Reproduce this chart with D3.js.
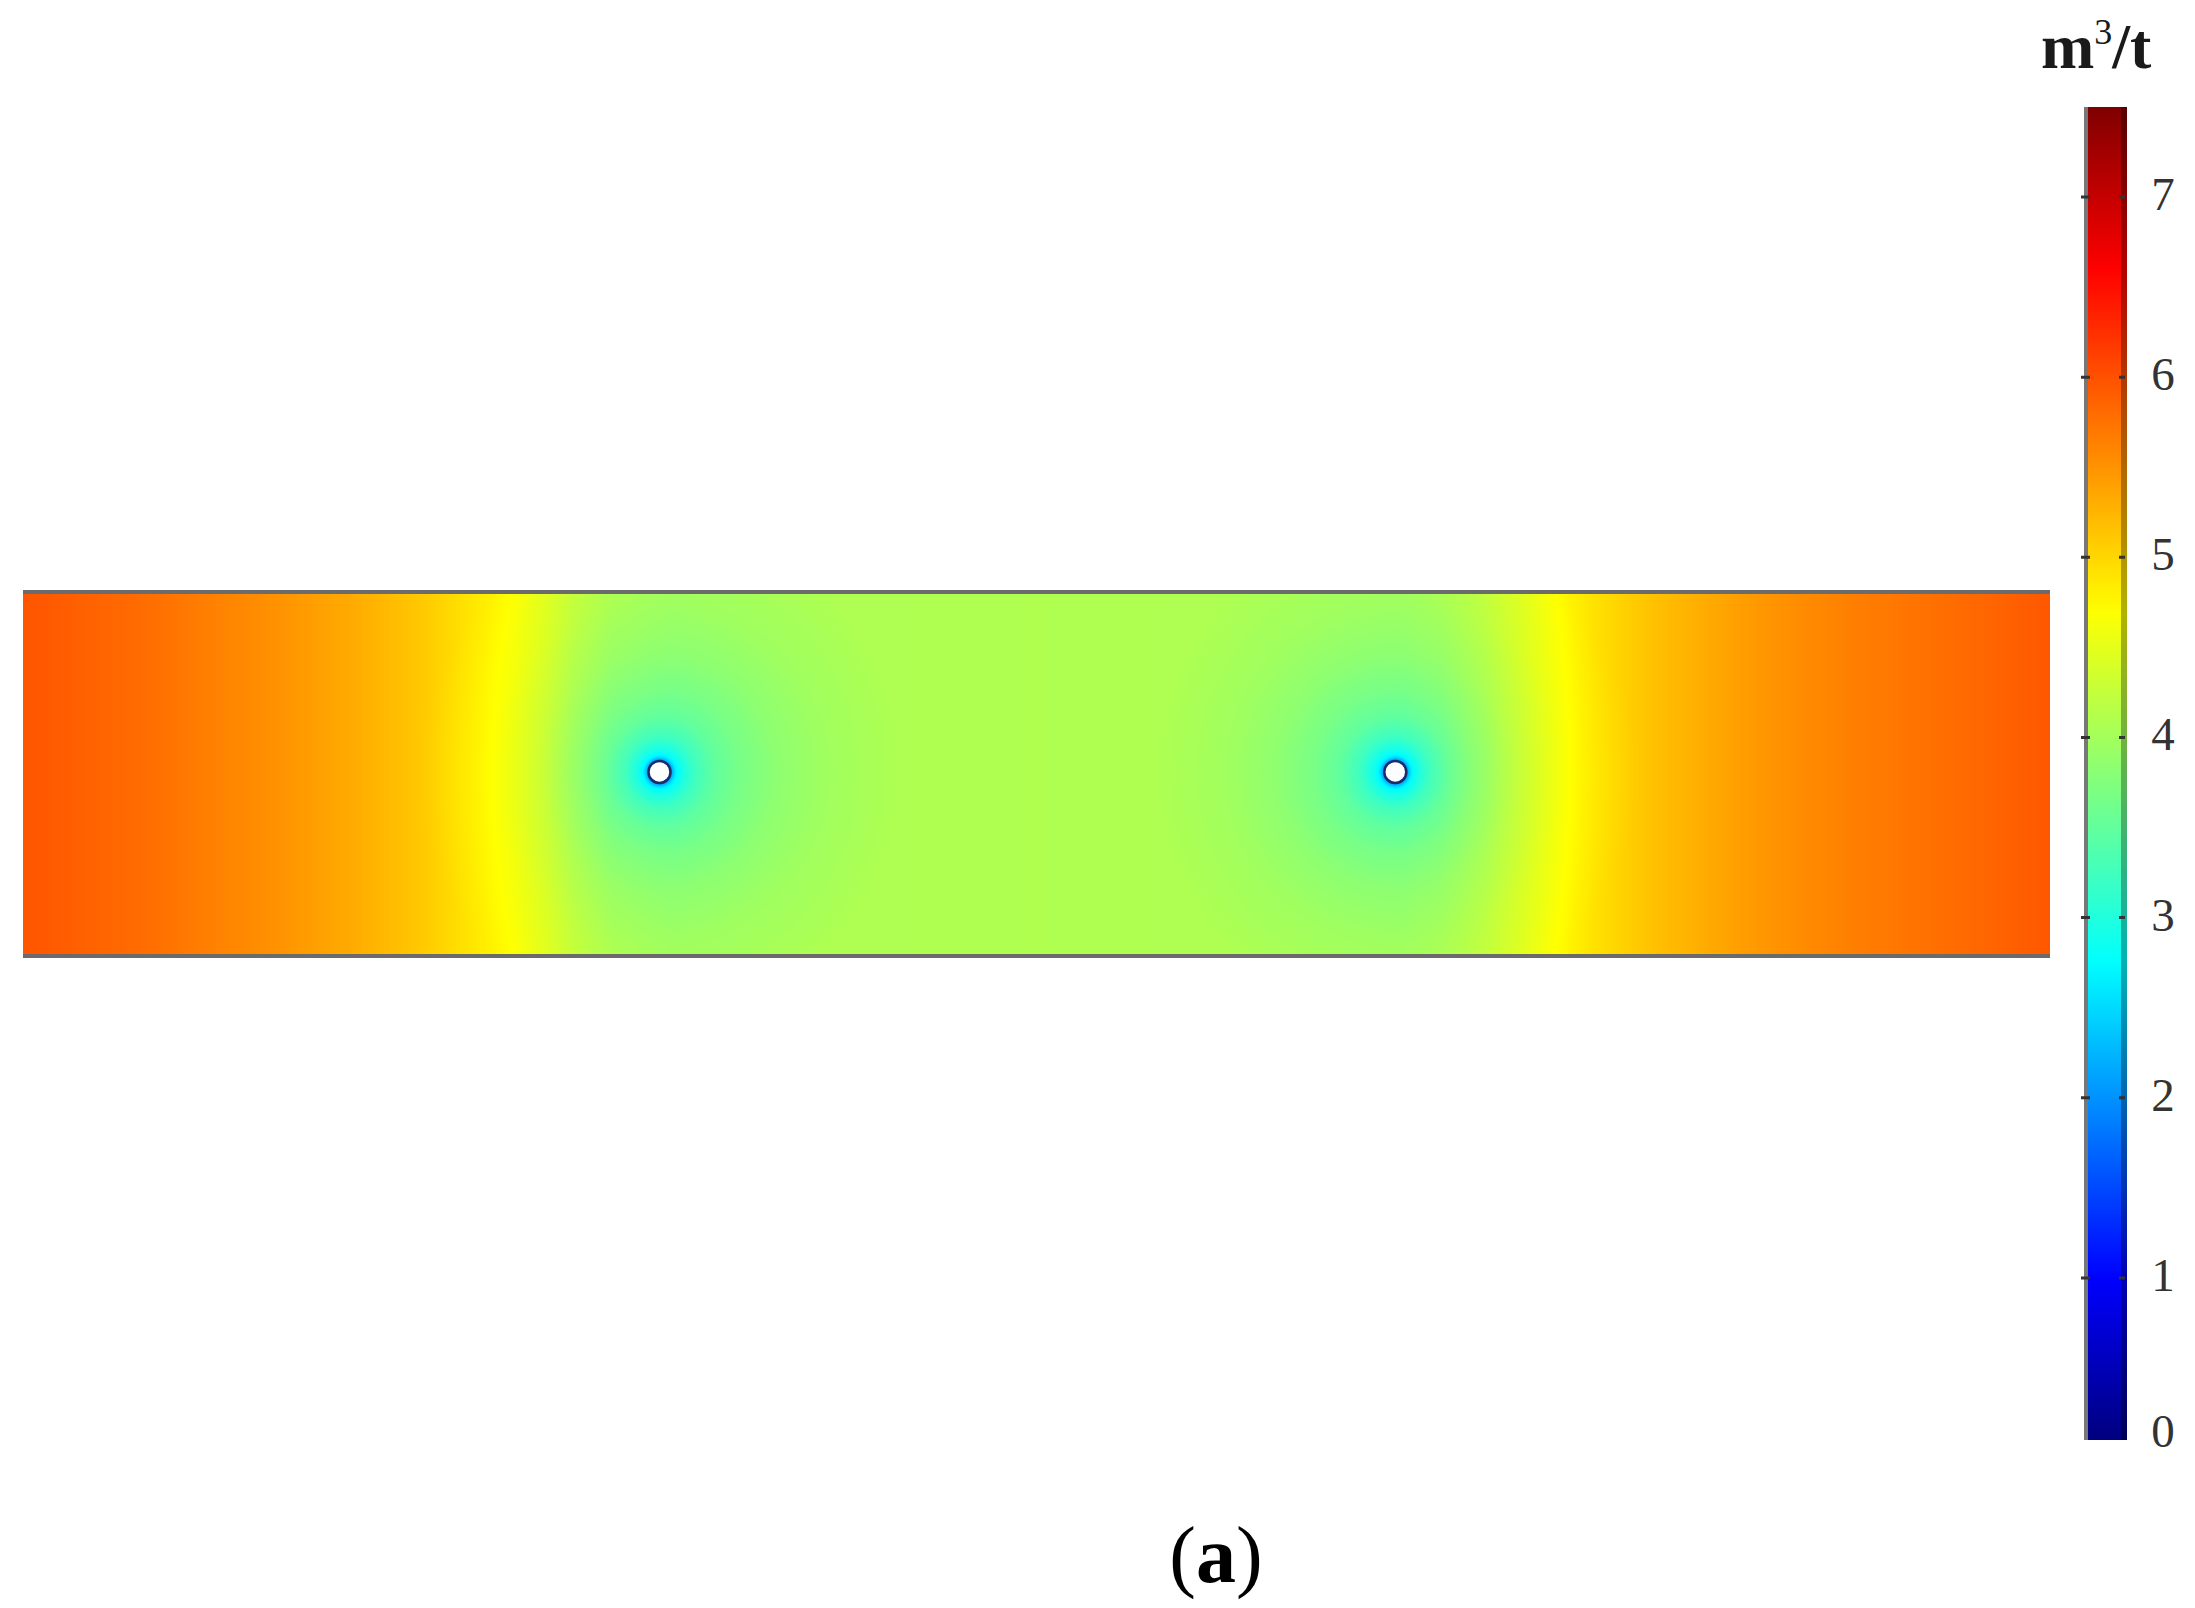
<!DOCTYPE html>
<html>
<head>
<meta charset="utf-8">
<script src="https://cdn.jsdelivr.net/npm/d3@7"></script>
<style>
  html, body { margin: 0; padding: 0; background: #fff; }
  svg { display: block; }
  .lbl { font-family: "Liberation Serif", "Times New Roman", serif; fill: #2a2a2a; }
</style>
</head>
<body>
<div id="chart"></div>
<script>
// gas content along the seam (position in % of the length -> m3/t)
var profileX = [0, 3, 6, 9, 12.5, 16, 19.5, 22, 24.2, 25.7, 27.2, 29, 32, 36, 42, 50, 58, 64, 68, 70, 72, 74, 75.6, 77.5, 80.5, 85, 90, 95.5, 100];
var profileV = [5.97, 5.88, 5.79, 5.66, 5.51, 5.34, 5.12, 4.90, 4.70, 4.52, 4.30, 4.14, 4.06, 4.07, 4.08, 4.09, 4.08, 4.07, 4.06, 4.12, 4.27, 4.50, 4.70, 4.92, 5.17, 5.44, 5.65, 5.80, 5.95];

// drainage boreholes (position in model units)
var holeX = [31.4, 67.7];
var holeY = [8.9, 8.9];

// drop of gas content around a borehole (distance -> drop, m3/t)
var holeR = [0.5, 0.65, 0.8, 1.1, 1.7, 2.7, 4.0, 6.0, 8.5, 12];
var holeDrop = [2.5, 1.8, 1.4, 1.15, 0.85, 0.58, 0.4, 0.22, 0.09, 0];

// colour legend
var stopValues = [0.1, 1.0, 2.75, 4.7, 6.6, 7.5];
var stopColors = ["#00007f", "#0000ff", "#00ffff", "#ffff00", "#ff0000", "#7f0000"];
var tickValues = [0, 1, 2, 3, 4, 5, 6, 7];

var W = 2195, H = 1608;
var field = {left: 23, right: 2050, top: 592, bottom: 956};
var bar = {left: 2086, right: 2127, top: 107, bottom: 1440};

var svg = d3.select("#chart").append("svg")
    .attr("width", W)
    .attr("height", H);

var xScale = d3.scaleLinear().domain([0, 100]).range([field.left, field.right]);
var yScale = d3.scaleLinear().domain([0, 18]).range([field.top, field.bottom]);

var profile = d3.scaleLinear().domain(profileX).range(profileV).clamp(true);
var drop = d3.scaleLinear().domain(holeR).range(holeDrop).clamp(true);

var color = d3.scaleLinear()
    .domain(stopValues)
    .range(stopColors)
    .interpolate(d3.interpolateRgb)
    .clamp(true);

// lookup table so the canvas loop stays quick
var vmin = stopValues[0], vmax = stopValues[stopValues.length - 1];
var lut = d3.range(1024).map(function(i) {
    return d3.rgb(color(vmin + (vmax - vmin) * i / 1023));
});

// draw the field on a canvas, then drop it into the svg
var cw = Math.round(field.right - field.left), ch = Math.round(field.bottom - field.top);
var canvas = document.createElement("canvas");
canvas.width = cw;
canvas.height = ch;
var ctx = canvas.getContext("2d");
var img = ctx.createImageData(cw, ch);
for (var j = 0; j < ch; j++) {
    var y = yScale.invert(field.top + j + 0.5);
    for (var i = 0; i < cw; i++) {
        var x = xScale.invert(field.left + i + 0.5);
        var v = profile(x);
        for (var k = 0; k < holeX.length; k++) {
            var dx = x - holeX[k], dy = y - holeY[k];
            v -= drop(Math.sqrt(dx * dx + dy * dy));
        }
        var t = Math.max(0, Math.min(1023, Math.round((v - vmin) / (vmax - vmin) * 1023)));
        var c = lut[t], p = (j * cw + i) * 4;
        img.data[p] = c.r; img.data[p + 1] = c.g; img.data[p + 2] = c.b; img.data[p + 3] = 255;
    }
}
ctx.putImageData(img, 0, 0);

svg.append("image")
    .attr("x", field.left)
    .attr("y", field.top)
    .attr("width", cw)
    .attr("height", ch)
    .attr("preserveAspectRatio", "none")
    .attr("href", canvas.toDataURL());

// top and bottom edges of the seam
svg.selectAll("line.edge")
    .data([0, 18])
    .enter().append("line")
    .attr("class", "edge")
    .attr("x1", field.left)
    .attr("x2", field.right)
    .attr("y1", function(d) { return yScale(d); })
    .attr("y2", function(d) { return yScale(d); })
    .attr("stroke", "#6b6b6b")
    .attr("stroke-width", 4);

// boreholes
svg.selectAll("circle.hole")
    .data(holeX)
    .enter().append("circle")
    .attr("class", "hole")
    .attr("cx", function(d) { return xScale(d); })
    .attr("cy", function(d, i) { return yScale(holeY[i]); })
    .attr("r", 11)
    .attr("fill", "#fbfdff")
    .attr("stroke", "#1a2d66")
    .attr("stroke-width", 2.5);

// colour bar
var cbScale = d3.scaleLinear().domain([vmin, vmax]).range([bar.bottom, bar.top]);

var grad = svg.append("defs").append("linearGradient")
    .attr("id", "cbar")
    .attr("x1", 0).attr("y1", 1).attr("x2", 0).attr("y2", 0);
grad.selectAll("stop")
    .data(d3.range(0, 1.0001, 0.02))
    .enter().append("stop")
    .attr("offset", function(d) { return d; })
    .attr("stop-color", function(d) { return color(vmin + d * (vmax - vmin)); });

svg.append("rect")
    .attr("x", bar.left)
    .attr("y", bar.top)
    .attr("width", bar.right - bar.left)
    .attr("height", bar.bottom - bar.top)
    .attr("fill", "url(#cbar)");

svg.append("rect")
    .attr("x", bar.right - 6)
    .attr("y", bar.top)
    .attr("width", 6)
    .attr("height", bar.bottom - bar.top)
    .attr("fill", "#000")
    .attr("opacity", 0.3);

svg.append("line")
    .attr("x1", bar.left).attr("x2", bar.left)
    .attr("y1", bar.top).attr("y2", bar.bottom)
    .attr("stroke", "#777")
    .attr("stroke-width", 4);

var ticks = svg.selectAll("g.tick")
    .data(tickValues)
    .enter().append("g")
    .attr("class", "tick")
    .attr("transform", function(d) { return "translate(0," + cbScale(Math.max(d, vmin)) + ")"; });

ticks.filter(function(d) { return d >= vmin; }).append("path")
    .attr("d", "M" + (bar.left - 5) + ",0h9M" + (bar.right - 8) + ",0h6")
    .attr("stroke", "#333")
    .attr("stroke-width", 3);

ticks.append("text")
    .attr("class", "lbl")
    .attr("x", 2163)
    .attr("y", function(d) { return d < vmin ? -9 : -3; })
    .attr("text-anchor", "middle")
    .attr("dominant-baseline", "central")
    .style("font-size", "47px")
    .style("fill", "#333")
    .text(function(d) { return d; });

// unit
var unit = svg.append("text")
    .attr("class", "lbl")
    .attr("x", 2041)
    .attr("y", 68)
    .style("font-size", "64px")
    .style("font-weight", "bold")
    .style("fill", "#1a1a1a");
unit.append("tspan").text("m");
unit.append("tspan").attr("dy", -24).style("font-size", "36px").style("font-weight", "normal").text("3");
unit.append("tspan").attr("dy", 24).text("/t");

// panel label
var panel = svg.append("text")
    .attr("class", "lbl")
    .attr("x", 1216)
    .attr("y", 1582)
    .attr("text-anchor", "middle")
    .style("font-size", "80px")
    .style("fill", "#000");
panel.append("tspan").text("(");
panel.append("tspan").style("font-weight", "bold").text("a");
panel.append("tspan").text(")");
</script>
</body>
</html>
